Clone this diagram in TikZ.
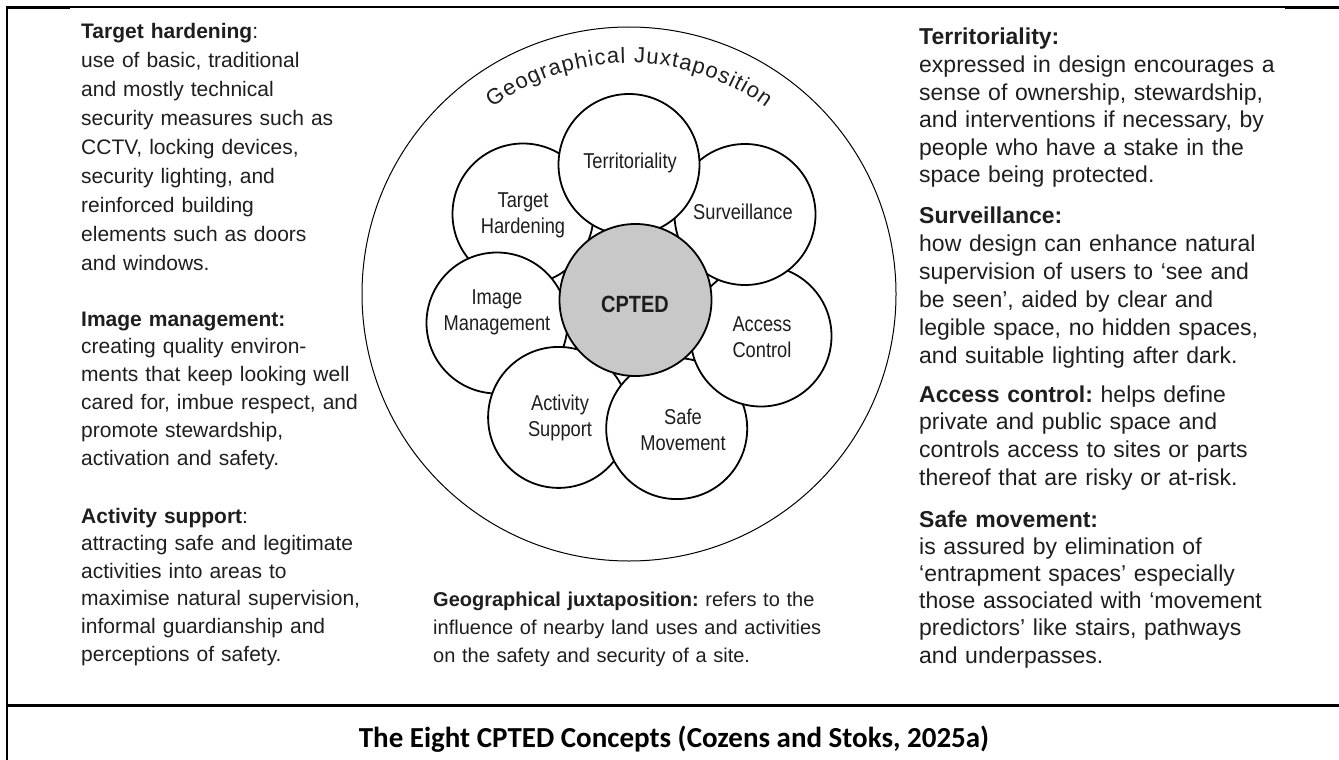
\documentclass[tikz,border=0pt]{standalone}
\usepackage{fontspec}
\setmainfont{Liberation Sans}
\newfontfamily\condfont[FakeStretch=0.85]{Liberation Sans}
\newfontfamily\capfont{Carlito}
\frenchspacing
\definecolor{txt}{RGB}{30,30,30}
\definecolor{coregray}{RGB}{200,200,200}
\begin{document}
\begin{tikzpicture}[x=1pt,y=-1pt,
  petal/.style={circle, draw=black, line width=1.8pt, fill=white, minimum size=141pt, inner sep=0pt},
  petallabel/.style={inner sep=0pt, align=center, text=txt, font=\condfont\fontsize{21.5}{26}\selectfont},
  frameline/.style={draw=black},
  coltext/.style={anchor=base west, inner sep=0pt, text width=430pt, align=left, text=txt},
  arcletter/.style={anchor=base, inner sep=0pt, text=txt, font=\fontsize{22}{22}\selectfont}
]
\useasboundingbox (0,0) rectangle (1339,760);

% frame
\draw[frameline, line width=1.2pt] (7,7) -- (1339,7);
\draw[frameline, line width=2.6pt] (6,7.3) -- (70,7.3);
\draw[frameline, line width=2.6pt] (1285,7.6) -- (1339,7.6);
\draw[frameline, line width=2pt] (7,6) -- (7,760);
\draw[frameline, line width=3pt] (6,705) -- (1339,705);

% outer circle
\node[circle, draw=black, line width=1pt, minimum size=534pt, inner sep=0pt] (outer) at (629,294) {};

% curved title, letter by letter (Arial widths, 22pt, 1.1pt tracking)
\def\gjrad{231}
\def\gjlen{293.9}
\pgfmathsetmacro\gjstart{90 + (0.5*\gjlen/(pi*\gjrad))*180}
\gdef\gjcum{0}
\foreach \ch/\w [count=\k] in {G/778,e/556,o/556,g/556,r/333,a/556,p/556,h/556,i/222,c/500,a/556,l/222,/278,J/500,u/556,x/500,t/278,a/556,p/556,o/556,s/500,i/222,t/278,i/222,o/556,n/556}{
  \pgfmathsetmacro\adv{\w*0.022+1.1}
  \pgfmathsetmacro\ang{\gjstart - ((\gjcum + \adv/2)/(pi*\gjrad))*180}
  \ifx\ch\empty\else
    \node[arcletter, rotate=\ang-90] (gj\k) at ([shift={(\ang:\gjrad pt)}]outer.center) {\ch};
  \fi
  \pgfmathsetmacro\newcum{\gjcum+\adv}
  \xdef\gjcum{\newcum}
}

% petals (drawing order sets the overlaps)
\node[petal] (th) at (523,214) {};
\node[petal] (im) at (497,323) {};
\node[petal] (as) at (558.6,417.4) {};
\node[petal] (sm) at (676.7,428.6) {};
\node[petal] (ac) at (761,336) {};
\node[petal] (sv) at (745,214.5) {};
\node[petal] (tr) at (629,164.5) {};
\node[circle, draw=black, line width=1.8pt, fill=coregray, minimum size=152pt, inner sep=0pt] (core) at (635.5,300) {};

\node[petallabel] (trl) at (630,163) {Territoriality};
\node[petallabel] (thl) at (523,215) {Target\\Hardening};
\node[petallabel] (svl) at (743,212) {Surveillance};
\node[petallabel] (iml) at (497,312) {Image\\Management};
\node[petallabel] (acl) at (762,337) {Access\\Control};
\node[petallabel] (asl) at (560,418) {Activity\\Support};
\node[petallabel] (sml) at (683,430) {Safe\\Movement};
\node[inner sep=0pt, text=txt, font=\condfont\bfseries\fontsize{23.5}{23.5}\selectfont] (corel) at (635,304) {CPTED};

% left column
\node[coltext, font=\fontsize{21}{29}\selectfont] (tht) at (81,39) {\textbf{Target hardening}:\\
use of basic, traditional\\
and mostly technical\\
security measures such as\\
CCTV, locking devices,\\
security lighting, and\\
reinforced building\\
elements such as doors\\
and windows.};

\node[coltext, font=\fontsize{21}{27.8}\selectfont] (imt) at (81,326) {\textbf{Image management:}\\
creating quality environ-\\
ments that keep looking well\\
cared for, imbue respect, and\\
promote stewardship,\\
activation and safety.};

\node[coltext, font=\fontsize{21}{27.6}\selectfont] (ast) at (81,523) {\textbf{Activity support}:\\
attracting safe and legitimate\\
activities into areas to\\
maximise natural supervision,\\
informal guardianship and\\
perceptions of safety.};

% right column
\node[coltext, font=\fontsize{23}{27.6}\selectfont] (trt) at (919,45) {\textbf{Territoriality:}\\
expressed in design encourages a\\
sense of ownership, stewardship,\\
and interventions if necessary, by\\
people who have a stake in the\\
space being protected.};

\node[coltext, font=\fontsize{23}{28}\selectfont] (svt) at (919,223) {\textbf{Surveillance:}\\
how design can enhance natural\\
supervision of users to ‘see and\\
be seen’, aided by clear and\\
legible space, no hidden spaces,\\
and suitable lighting after dark.};

\node[coltext, font=\fontsize{23}{27.7}\selectfont] (act) at (919,402) {\textbf{Access control:} helps define\\
private and public space and\\
controls access to sites or parts\\
thereof that are risky or at-risk.};

\node[coltext, font=\fontsize{23}{27.2}\selectfont] (smt) at (919,527) {\textbf{Safe movement:}\\
is assured by elimination of\\
‘entrapment spaces’ especially\\
those associated with ‘movement\\
predictors’ like stairs, pathways\\
and underpasses.};

% centre bottom
\node[coltext, font=\fontsize{20}{28}\selectfont] (gjt) at (433,606) {\textbf{Geographical juxtaposition:} refers to the\\
influence of nearby land uses and activities\\
on the safety and security of a site.};

% caption
\node[anchor=base, inner sep=0pt, text=black, font=\capfont\bfseries\fontsize{29}{29}\selectfont] (cap) at (674,747) {The Eight CPTED Concepts (Cozens and Stoks, 2025a)};
\end{tikzpicture}
\end{document}
